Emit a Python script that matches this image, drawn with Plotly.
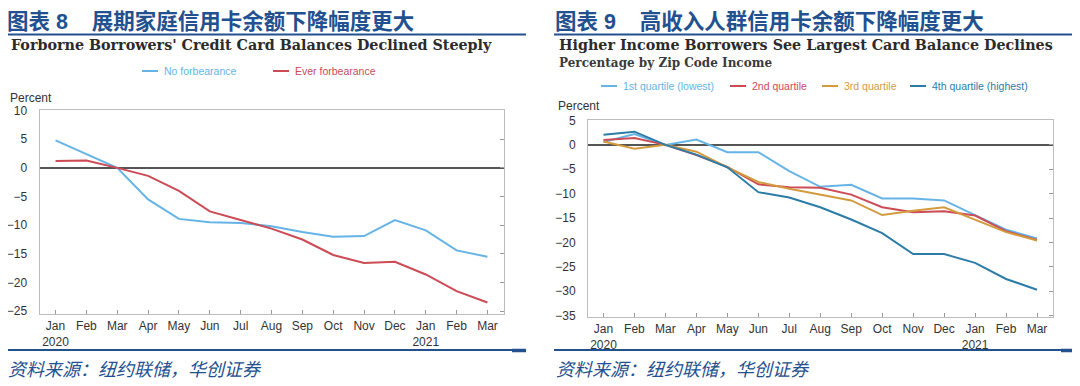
import plotly.graph_objects as go

# The page body keeps its default 8px margin, so the figure is drawn 8px in from the
# window's top-left corner; all positions below are given in window pixels.
OFF = 8
W, H = 1072, 378

# ---------------- data ----------------
months = ["Jan", "Feb", "Mar", "Apr", "May", "Jun", "Jul", "Aug", "Sep", "Oct", "Nov", "Dec", "Jan", "Feb", "Mar"]
tick_labels = ["Jan<br>2020", "Feb", "Mar", "Apr", "May", "Jun", "Jul", "Aug", "Sep", "Oct", "Nov", "Dec",
               "Jan<br>2021", "Feb", "Mar"]
x_idx = list(range(len(months)))

no_forbearance = [4.8, 2.4, 0.0, -5.5, -8.9, -9.5, -9.6, -10.2, -11.2, -12.0, -11.9, -9.1, -10.9, -14.4, -15.5]
ever_forbearance = [1.2, 1.3, 0.0, -1.4, -4.0, -7.6, -9.1, -10.6, -12.5, -15.2, -16.6, -16.4, -18.6, -21.5, -23.5]

q1_lowest = [0.6, 2.2, 0.0, 1.1, -1.5, -1.5, -5.4, -8.6, -8.2, -11.0, -11.0, -11.4, -14.4, -17.4, -19.2]
q2 = [1.0, 1.4, 0.0, -2.1, -4.5, -8.1, -8.7, -8.8, -10.2, -12.8, -13.8, -13.6, -14.5, -17.7, -19.5]
q3 = [0.7, -0.8, 0.0, -1.4, -4.6, -7.6, -9.0, -10.2, -11.4, -14.4, -13.5, -12.8, -15.4, -17.9, -19.6]
q4_highest = [2.1, 2.7, 0.0, -2.0, -4.6, -9.7, -10.8, -12.8, -15.3, -18.1, -22.4, -22.4, -24.2, -27.5, -29.7]

left_yticks = [10, 5, 0, -5, -10, -15, -20, -25]
right_yticks = [5, 0, -5, -10, -15, -20, -25, -30, -35]

# ---------------- styles ----------------
C_LBLUE = "#66B4E6"
C_RED = "#CC4B55"
C_ORANGE = "#D39A3E"
C_DARK = "#2C7CA8"
RULE = "#23508F"
TXT = "#333333"
FRAME = "#BDBDBD"


def px_x(p):
    return (p - OFF) / W


def px_y(p):
    return 1 - (p - OFF) / H


fig = go.Figure()

# (values, name, colour, x axis, y axis, legend text-start px, legend centre-y px)
series = [
    (no_forbearance, "No forbearance", C_LBLUE, "x", "y", 162, 71),
    (ever_forbearance, "Ever forbearance", C_RED, "x", "y", 293, 71),
    (q1_lowest, "1st quartile (lowest)", C_LBLUE, "x2", "y2", 621, 86),
    (q2, "2nd quartile", C_RED, "x2", "y2", 750, 86),
    (q3, "3rd quartile", C_ORANGE, "x2", "y2", 842, 86),
    (q4_highest, "4th quartile (highest)", C_DARK, "x2", "y2", 930, 86),
]

ann = []
shapes = []
leg_font = dict(family="Liberation Sans, Arial, sans-serif", size=10.5)
for ys, nm, col, xa, ya, tx, ty in series:
    fig.add_trace(go.Scatter(x=x_idx, y=ys, mode="lines", name=nm, showlegend=False,
                             line=dict(color=col, width=2), xaxis=xa, yaxis=ya))
    # legend key: short line + coloured label
    shapes.append(dict(type="line", xref="paper", yref="paper", x0=px_x(tx - 20), x1=px_x(tx - 4),
                       y0=px_y(ty), y1=px_y(ty), line=dict(color=col, width=2)))
    ann.append(dict(text=nm, x=px_x(tx), y=px_y(ty), font=dict(color=col, **leg_font)))

# helper empty traces for right-side tick overlays
fig.add_trace(go.Scatter(x=[], y=[], xaxis="x", yaxis="y3", showlegend=False, hoverinfo="skip"))
fig.add_trace(go.Scatter(x=[], y=[], xaxis="x2", yaxis="y4", showlegend=False, hoverinfo="skip"))

tick_font = dict(family="Liberation Sans, Arial, sans-serif", size=12, color=TXT)

xcommon = dict(tickmode="array", tickvals=x_idx, ticktext=tick_labels, ticks="inside", ticklen=4,
               tickcolor="#9A9A9A", showline=True, linecolor=FRAME, linewidth=1, mirror=True,
               showgrid=False, zeroline=False, tickfont=tick_font, ticklabelstandoff=1, fixedrange=True)
ycommon = dict(tickmode="array", ticks="", showline=True, linecolor=FRAME, linewidth=1, mirror=True,
               showgrid=False, zeroline=True, zerolinecolor="#555555", zerolinewidth=1.5,
               tickfont=tick_font, ticklabelstandoff=9, fixedrange=True)

L_dom_x = [px_x(39.5), px_x(503.5)]
L_dom_y = [px_y(314), px_y(110)]
R_dom_x = [px_x(588), px_x(1052.5)]
R_dom_y = [px_y(317), px_y(120)]
L_range = [-25.5, 10.1]
R_range = [-35.3, 5.1]

fig.update_layout(
    width=W, height=H, margin=dict(l=0, r=0, t=0, b=0, autoexpand=False),
    paper_bgcolor="white", plot_bgcolor="white", showlegend=False,
    xaxis=dict(domain=L_dom_x, range=[-0.52, 14.52], anchor="y", **xcommon),
    yaxis=dict(domain=L_dom_y, range=L_range, anchor="x", tickvals=left_yticks, **ycommon),
    yaxis3=dict(overlaying="y", side="right", anchor="x", range=L_range, tickmode="array",
                tickvals=left_yticks, ticks="inside", ticklen=4, tickcolor="#9A9A9A",
                showticklabels=False, showgrid=False, zeroline=False, showline=False, fixedrange=True),
    xaxis2=dict(domain=R_dom_x, range=[-0.5, 14.5], anchor="y2", **xcommon),
    yaxis2=dict(domain=R_dom_y, range=R_range, anchor="x2", tickvals=right_yticks, **ycommon),
    yaxis4=dict(overlaying="y2", side="right", anchor="x2", range=R_range, tickmode="array",
                tickvals=right_yticks, ticks="inside", ticklen=4, tickcolor="#9A9A9A",
                showticklabels=False, showgrid=False, zeroline=False, showline=False, fixedrange=True),
)

cn_title = dict(family="Liberation Sans, Noto Sans CJK SC", size=21.5, color=RULE, weight="bold")
ann.append(dict(text="图表 8    展期家庭信用卡余额下降幅度更大", x=px_x(6), y=px_y(21), font=cn_title,
                borderpad=0))
ann.append(dict(text="图表 9    高收入人群信用卡余额下降幅度更大", x=px_x(554), y=px_y(21), font=cn_title,
                borderpad=0))
en_title = dict(family="DejaVu Serif", size=14.3, color="#2B2B2B", weight="bold")
ann.append(dict(text="Forborne Borrowers' Credit Card Balances Declined Steeply", x=px_x(9), y=px_y(45),
                font=en_title))
ann.append(dict(text="Higher Income Borrowers See Largest Card Balance Declines", x=px_x(557), y=px_y(45),
                font=en_title))
ann.append(dict(text="Percentage by Zip Code Income", x=px_x(557), y=px_y(63),
                font=dict(family="DejaVu Serif", size=12, color="#3A3A3A", weight="bold")))
pct_font = dict(family="Liberation Sans, Arial, sans-serif", size=12, color=TXT)
ann.append(dict(text="Percent", x=px_x(8), y=px_y(98), font=pct_font))
ann.append(dict(text="Percent", x=px_x(556), y=px_y(106), font=pct_font))
src_font = dict(family="Noto Sans CJK SC", size=18, color=RULE, style="italic")
ann.append(dict(text="资料来源：纽约联储，华创证券", x=px_x(6), y=px_y(368), font=src_font))
ann.append(dict(text="资料来源：纽约联储，华创证券", x=px_x(554), y=px_y(368), font=src_font))
for a in ann:
    a.update(xref="paper", yref="paper", xanchor="left", yanchor="middle", showarrow=False)
fig.update_layout(annotations=ann)

for x0, x1 in [(5, 526), (554, 1075)]:
    for yy in [34.5, 350]:
        shapes.append(dict(type="line", xref="paper", yref="paper", x0=px_x(x0), x1=px_x(x1),
                           y0=px_y(yy), y1=px_y(yy), line=dict(color=RULE, width=2)))
    # thicker end piece on the bottom rule
    shapes.append(dict(type="line", xref="paper", yref="paper", x0=px_x(x1 - 14), x1=px_x(x1),
                       y0=px_y(350.5), y1=px_y(350.5), line=dict(color=RULE, width=3.5)))
fig.update_layout(shapes=shapes)

fig.write_html("out.html")
